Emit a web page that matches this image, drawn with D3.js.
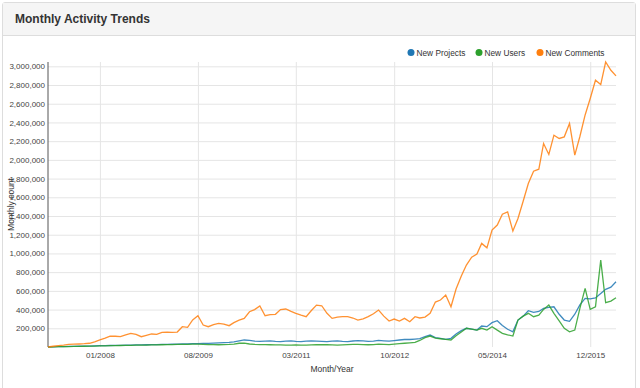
<!DOCTYPE html>
<html>
<head>
<meta charset="utf-8">
<script src="https://cdn.jsdelivr.net/npm/d3@7"></script>
<style>
  body { margin: 0; background: #fff; font-family: "Liberation Sans", Arial, sans-serif; }
  .panel { position: absolute; left: 2px; top: 2px; width: 634px; height: 400px;
           border: 1px solid #ddd; border-radius: 3px; box-sizing: border-box; }
  .panel-heading { height: 33px; background: #f5f5f5; border-bottom: 1px solid #ddd;
                   box-sizing: border-box; padding: 10px 12px; font-weight: bold;
                   font-size: 12px; color: #333; line-height: 13px; }
  svg { position: absolute; left: 0; top: 0; }
  .grid line { stroke: #e5e5e5; }
  .axis text { fill: #444; font-size: 8px; }
</style>
</head>
<body>
<div class="panel"><div class="panel-heading">Monthly Activity Trends</div></div>
<svg id="chart" width="640" height="388"></svg>
<script>
"use strict";

// monthly series, starting 03/2007 (values in thousands)
var startMonth = "03/2007";
var seriesNames = ["New Projects", "New Users", "New Comments"];
var seriesColors = ["#1f77b4", "#2ca02c", "#ff7f0e"];
var tickLabels = ["01/2008", "08/2009", "03/2011", "10/2012", "05/2014", "12/2015"];

var newProjects = [
  0, 2, 4, 5, 6, 7, 8, 9, 10, 12, 14,
  15, 16, 17, 18, 19, 20, 22, 23, 24, 25,
  26, 28, 29, 30, 31, 33, 34, 35, 37, 38,
  39, 42, 45, 47, 50, 55, 65, 75, 70, 62,
  60, 62, 65, 60, 58, 62, 65, 60, 57, 62,
  65, 63, 60, 58, 62, 66, 60, 58, 64, 68,
  65, 60, 62, 70, 66, 62, 68, 75, 80, 80,
  85, 90, 110, 128, 100, 93, 82, 93, 140, 175,
  200, 190, 181, 224, 217, 260, 281, 230, 190, 163,
  288, 330, 388, 370, 380, 413, 424, 430, 350, 288,
  275, 350, 450, 520, 515, 525, 573, 616, 640, 697
];
var newUsers = [
  0, 2, 3, 4, 5, 6, 7, 8, 9, 10, 12,
  13, 14, 15, 16, 17, 18, 19, 20, 21, 22,
  23, 24, 25, 26, 27, 28, 29, 30, 30, 28,
  26, 25, 24, 25, 27, 30, 40, 42, 32, 28,
  26, 25, 24, 23, 22, 21, 20, 22, 21, 20,
  22, 24, 26, 24, 22, 21, 23, 26, 28, 27,
  26, 24, 25, 30, 28, 26, 30, 35, 40, 45,
  50, 70, 100, 117, 95, 88, 82, 75, 120, 160,
  200, 190, 181, 200, 181, 217, 180, 146, 130, 117,
  288, 330, 360, 324, 340, 402, 448, 360, 280, 200,
  163, 181, 413, 627, 402, 430, 929, 473, 490, 526
];
var newComments = [
  0, 8, 15, 20, 28, 30, 32, 35, 40, 55, 75,
  95, 117, 115, 110, 130, 146, 135, 110, 125, 139,
  135, 157, 160, 157, 160, 217, 210, 290, 334, 235,
  217, 240, 253, 245, 228, 260, 288, 306, 377, 400,
  438, 334, 345, 349, 400, 406, 380, 360, 340, 324,
  390, 448, 441, 360, 306, 320, 324, 324, 310, 288,
  300, 324, 355, 395, 330, 278, 299, 278, 306, 270,
  324, 310, 320, 360, 480, 502, 555, 430, 620, 760,
  876, 960, 993, 1107, 1060, 1249, 1303, 1420, 1445, 1239,
  1374, 1560, 1748, 1879, 1900, 2175, 2058, 2264, 2229, 2246,
  2389, 2050, 2250, 2480, 2656, 2851, 2805, 3046, 2958, 2897
];

var parseMonth = d3.timeParse("%m/%Y");
var start = parseMonth(startMonth);

function toPoints(values) {
  return values.map(function(v, i) {
    return { date: d3.timeMonth.offset(start, i), value: v * 1000 };
  });
}

var series = [newProjects, newUsers, newComments].map(function(values, i) {
  return { name: seriesNames[i], color: seriesColors[i], points: toPoints(values) };
});

var svg = d3.select("#chart");
var margin = { left: 48, right: 24, top: 62, bottom: 41 };
var width = 640, height = 388;

var allPoints = d3.merge(series.map(function(s) { return s.points; }));

var x = d3.scaleTime()
  .domain(d3.extent(allPoints, function(d) { return d.date; }))
  .range([margin.left, width - margin.right]);

var y = d3.scaleLinear()
  .domain([0, d3.max(allPoints, function(d) { return d.value; })])
  .range([height - margin.bottom, margin.top]);

var yTicks = d3.range(200000, 3000001, 200000);
var xTicks = tickLabels.map(parseMonth);

// grid + axes
var yAxis = svg.append("g")
  .attr("class", "axis grid")
  .attr("transform", "translate(" + margin.left + ",0)")
  .call(d3.axisLeft(y)
    .tickValues(yTicks)
    .tickFormat(d3.format(","))
    .tickSize(-(width - margin.left - margin.right))
    .tickPadding(3));
yAxis.select(".domain").remove();
yAxis.selectAll("text").attr("x", -3);

var xAxis = svg.append("g")
  .attr("class", "axis grid")
  .attr("transform", "translate(0," + (height - margin.bottom) + ")")
  .call(d3.axisBottom(x)
    .tickValues(xTicks)
    .tickFormat(d3.timeFormat("%m/%Y"))
    .tickSize(-(height - margin.top - margin.bottom))
    .tickPadding(5));
xAxis.select(".domain").remove();

svg.append("line")
  .attr("x1", margin.left).attr("x2", margin.left)
  .attr("y1", margin.top).attr("y2", height - margin.bottom)
  .attr("stroke", "#555");

// axis labels
svg.append("text")
  .attr("transform", "translate(14," + ((margin.top + height - margin.bottom) / 2) + ") rotate(-90)")
  .attr("text-anchor", "middle")
  .attr("fill", "#333")
  .style("font-size", "8.5px")
  .text("Monthly count");

svg.append("text")
  .attr("x", (margin.left + width - margin.right) / 2)
  .attr("y", 372)
  .attr("text-anchor", "middle")
  .attr("fill", "#333")
  .style("font-size", "8.5px")
  .text("Month/Year");

// lines
var line = d3.line()
  .x(function(d) { return x(d.date); })
  .y(function(d) { return y(d.value); });

svg.append("g")
  .selectAll("path")
  .data(series)
  .enter()
  .append("path")
  .attr("d", function(s) { return line(s.points); })
  .attr("fill", "none")
  .attr("stroke", function(s) { return s.color; })
  .attr("stroke-width", 1.3)
  .attr("stroke-opacity", 0.85);

// legend
var legendX = [411, 479, 540];
var legend = svg.append("g")
  .attr("class", "legend")
  .style("font-size", "8.3px");

legend.selectAll("circle")
  .data(series)
  .enter()
  .append("circle")
  .attr("cx", function(s, i) { return legendX[i]; })
  .attr("cy", 52.5)
  .attr("r", 3.5)
  .attr("fill", function(s) { return s.color; });

legend.selectAll("text")
  .data(series)
  .enter()
  .append("text")
  .attr("x", function(s, i) { return legendX[i] + 5.5; })
  .attr("y", 55.5)
  .attr("fill", "#333")
  .text(function(s) { return s.name; });
</script>
</body>
</html>
